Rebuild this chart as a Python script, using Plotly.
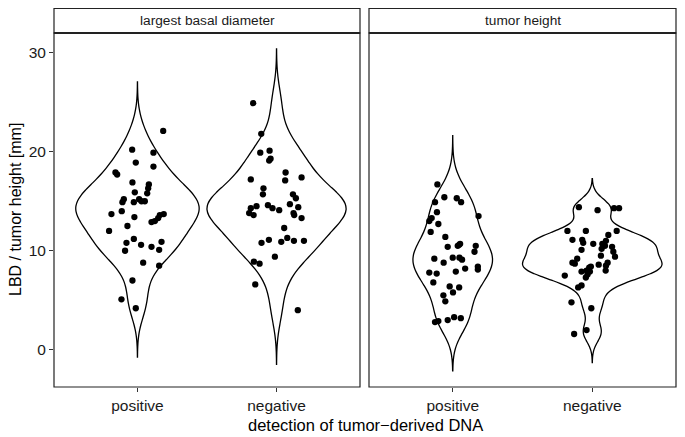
import numpy as np
import plotly.graph_objects as go

# ---------------- data ----------------
categories = ["positive", "negative"]
facets = ["largest basal diameter", "tumor height"]

lbd_positive = [22.1, 20.2, 19.9, 18.9, 18.5, 17.9, 17.7, 16.9, 16.7, 16.3, 15.8, 15.9, 15.2, 14.9,
                15.2, 15.0, 15.0, 14.9, 13.7, 14.0, 13.4, 13.6, 13.7, 13.3, 13.0, 12.9, 12.0, 12.5,
                11.2, 10.8, 10.6, 10.4, 10.9, 10.1, 10.0, 8.8, 8.5, 7.0, 5.1, 4.2]
lbd_positive_jit = [0.185, -0.038, 0.115, -0.012, 0.115, -0.158, -0.146, -0.036, 0.082, 0.077, 0.070,
                    -0.019, -0.098, -0.108, 0.012, 0.029, 0.053, -0.026, -0.187, -0.113, -0.022, 0.161,
                    0.189, 0.149, 0.125, 0.101, -0.204, -0.072, -0.026, -0.079, 0.026, 0.101, 0.173,
                    0.156, -0.089, 0.041, 0.156, -0.036, -0.115, -0.012]

lbd_negative = [24.9, 21.8, 19.9, 20.1, 19.3, 19.1, 17.9, 17.1, 17.2, 17.4, 16.3, 15.7, 15.7, 15.3,
                14.7, 14.4, 14.6, 14.3, 14.1, 14.5, 14.3, 13.8, 13.6, 13.8, 13.6, 13.3, 12.3, 11.3,
                10.9, 11.0, 11.0, 11.1, 10.8, 9.4, 8.9, 8.7, 6.6, 4.0]
lbd_negative_jit = [-0.168, -0.110, -0.117, -0.050, -0.043, -0.053, 0.065, 0.062, -0.185, 0.180,
                    -0.094, -0.098, 0.118, 0.139, 0.096, 0.156, -0.062, -0.029, 0.019, -0.144, -0.185,
                    -0.197, -0.165, 0.122, 0.127, 0.180, 0.055, 0.077, 0.034, 0.125, 0.197, -0.055,
                    -0.108, -0.012, -0.163, -0.122, -0.153, 0.153]

th_positive = [16.7, 15.4, 15.3, 14.9, 14.9, 13.9, 13.3, 13.0, 12.7, 13.5, 11.9, 11.4, 10.4, 10.6,
               10.7, 10.5, 10.5, 9.9, 9.2, 8.8, 9.3, 9.3, 9.1, 8.2, 8.4, 8.1, 7.8, 7.7, 7.9, 6.8,
               6.4, 6.3, 5.8, 5.5, 4.9, 2.8, 2.9, 3.0, 3.3, 3.2]
th_positive_jit = [-0.110, -0.060, 0.029, 0.060, -0.127, -0.113, -0.151, -0.168, -0.103, 0.185,
                   -0.158, -0.053, -0.036, 0.046, 0.053, 0.036, 0.165, 0.156, -0.132, -0.065, 0.0,
                   0.048, 0.067, 0.089, 0.180, 0.180, -0.168, -0.115, 0.022, -0.139, -0.022, 0.046,
                   0.002, -0.067, -0.053, -0.127, -0.103, -0.036, 0.010, 0.058]

th_negative = [14.4, 14.1, 14.3, 14.3, 12.0, 12.0, 11.6, 12.0, 11.1, 11.1, 10.8, 10.7, 10.7, 11.0,
               10.5, 10.4, 10.2, 9.9, 9.4, 10.1, 9.5, 9.2, 8.8, 8.7, 8.8, 8.5, 8.6, 8.4, 8.3, 8.0,
               7.9, 7.6, 7.9, 7.3, 8.0, 7.5, 6.5, 6.3, 4.8, 4.2, 2.0, 1.6]
th_negative_jit = [-0.096, 0.038, 0.156, 0.192, -0.178, -0.046, 0.115, 0.175, -0.142, -0.072, -0.065,
                   0.007, 0.072, 0.098, 0.091, 0.142, 0.067, 0.151, 0.163, -0.077, 0.062, -0.108,
                   -0.142, -0.125, 0.110, 0.098, 0.046, -0.010, -0.022, -0.041, -0.077, -0.034,
                   -0.017, -0.046, 0.096, -0.197, -0.077, -0.101, -0.149, -0.007, -0.041, -0.130]

y_ticks = [0, 10, 20, 30]

# ---------------- style ----------------
FONT = "Liberation Sans, Arial, Helvetica, sans-serif"
violin_widths = {"x": [0.885, 1.0], "x2": [0.57, 1.0]}


def nrd0(v):
    v = np.asarray(v, dtype=float)
    sd = v.std(ddof=1)
    iqr = np.subtract(*np.percentile(v, [75, 25]))
    lo = min(sd, iqr / 1.34)
    return 0.9 * lo * len(v) ** (-0.2)


fig = go.Figure()

panels = [
    ("x", "y", [lbd_positive, lbd_negative], [lbd_positive_jit, lbd_negative_jit]),
    ("x2", "y2", [th_positive, th_negative], [th_positive_jit, th_negative_jit]),
]

for xa, ya, groups, jits in panels:
    for i, (vals, jit) in enumerate(zip(groups, jits)):
        pos = i + 1
        bw = nrd0(vals)
        fig.add_trace(go.Violin(
            x=[pos] * len(vals), y=vals, xaxis=xa, yaxis=ya,
            bandwidth=bw, spanmode="manual", span=[min(vals) - 3 * bw, max(vals) + 3 * bw],
            scalemode="width", width=violin_widths[xa][i],
            line=dict(color="black", width=1.3), fillcolor="white",
            points=False, box_visible=False, meanline_visible=False,
            showlegend=False, hoverinfo="skip", orientation="v",
        ))
        fig.add_trace(go.Scatter(
            x=[pos + j for j in jit], y=vals, xaxis=xa, yaxis=ya,
            mode="markers", marker=dict(color="black", size=6.3, line=dict(width=0)),
            showlegend=False, hoverinfo="skip",
        ))

# the page body adds an 8px margin, so the figure is 8px smaller than the window
W, H = 677, 429
L, R, T, B = 46, 9, 25, 50
pw = W - L - R
ph = H - T - B
d1 = [0, 306 / pw]
d2 = [315 / pw, 1]

axis_common = dict(showgrid=False, zeroline=False, showline=False, ticks="outside", ticklen=4,
                   tickcolor="#333333", tickwidth=1,
                   tickfont=dict(family=FONT, size=15.5, color="#1a1a1a"))

fig.update_layout(
    width=W, height=H,
    margin=dict(l=L, r=R, t=T, b=B),
    plot_bgcolor="white", paper_bgcolor="white",
    violinmode="overlay",
    xaxis=dict(domain=d1, range=[0.4, 2.6], tickvals=[1, 2], ticktext=categories,
               ticklabelstandoff=0, **axis_common),
    xaxis2=dict(domain=d2, range=[0.4, 2.6], tickvals=[1, 2], ticktext=categories, anchor="y2",
                ticklabelstandoff=0, **axis_common),
    yaxis=dict(range=[-3.75, 31.98], tickvals=y_ticks, **axis_common),
    yaxis2=dict(range=[-3.75, 31.98], tickvals=y_ticks, anchor="x2", matches="y",
                showticklabels=False, showgrid=False, zeroline=False, ticks=""),
)

strip_h = 24.5 / ph
shapes = []
annotations = []
for xa, dom, title in [("x", d1, facets[0]), ("x2", d2, facets[1])]:
    shapes.append(dict(type="rect", xref=f"{xa} domain", yref="paper", x0=0, x1=1, y0=0, y1=1,
                       line=dict(color="#222222", width=1.2), fillcolor="rgba(0,0,0,0)", layer="above"))
    shapes.append(dict(type="rect", xref="paper", yref="paper", x0=dom[0], x1=dom[1], y0=1, y1=1 + strip_h,
                       line=dict(color="#222222", width=1.2), fillcolor="white", layer="above"))
    shapes.append(dict(type="line", xref="paper", yref="paper", x0=dom[0], x1=dom[1], y0=1, y1=1,
                       line=dict(color="#222222", width=2.2), layer="above"))
    annotations.append(dict(text=title, xref="paper", yref="paper", x=(dom[0] + dom[1]) / 2,
                            y=1 + strip_h / 2, showarrow=False, xanchor="center", yanchor="middle",
                            font=dict(family=FONT, size=13.7, color="#1a1a1a")))

annotations.append(dict(text="detection of tumor\u2212derived DNA", xref="paper", yref="paper",
                        x=(d1[0] + d2[1]) / 2, y=-38 / ph, showarrow=False, xanchor="center",
                        yanchor="middle", font=dict(family=FONT, size=16.5, color="black")))
annotations.append(dict(text="LBD / tumor height [mm]", xref="paper", yref="paper",
                        x=-39 / pw, y=0.5, showarrow=False, xanchor="center", yanchor="middle",
                        textangle=-90, font=dict(family=FONT, size=16, color="black")))

fig.update_layout(shapes=shapes, annotations=annotations)
fig.write_html("out.html")
